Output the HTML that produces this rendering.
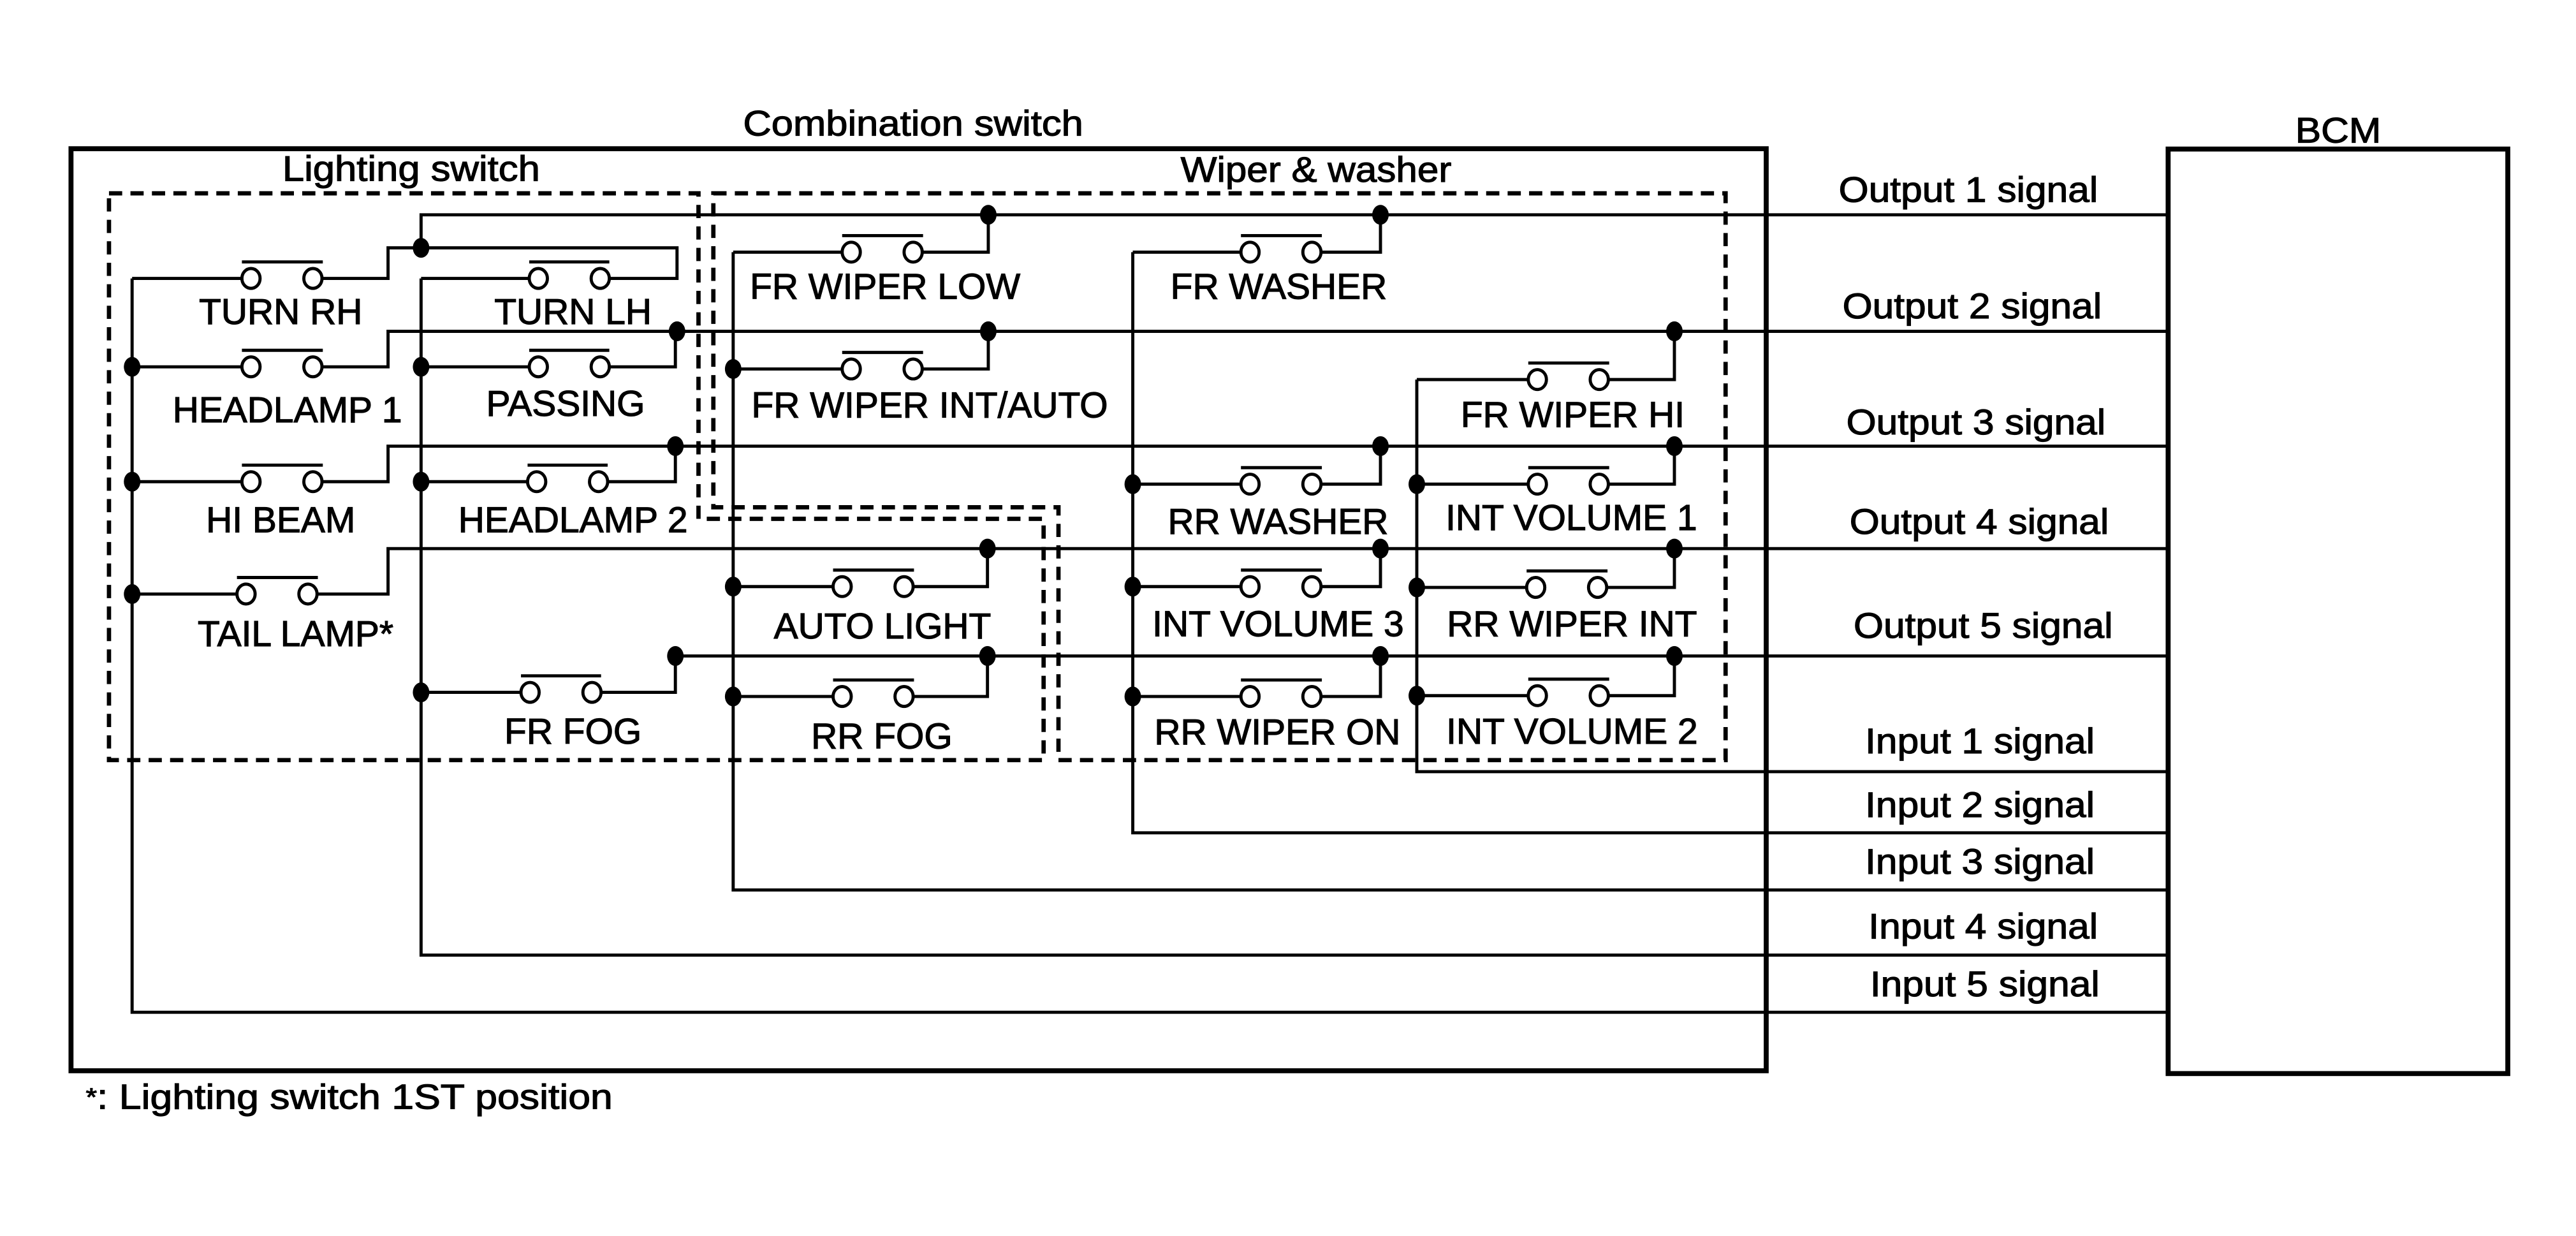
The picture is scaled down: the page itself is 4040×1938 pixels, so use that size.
<!DOCTYPE html>
<html><head><meta charset="utf-8"><style>html,body{margin:0;padding:0;background:#fff}svg{display:block}</style></head>
<body>
<svg width="4040" height="1938" viewBox="0 0 1560 748" preserveAspectRatio="none" xmlns="http://www.w3.org/2000/svg" font-family="'Liberation Sans', sans-serif" font-size="22">
<rect width="1560" height="748" fill="#fff"/>
<g fill="none" stroke="#000">
<rect x="43" y="90" width="1026.6" height="558" stroke-width="3"/>
<rect x="1313" y="90.2" width="205.7" height="559.5" stroke-width="3"/>
<path d="M66,117 H423 V314 H632 V460 H66 Z" stroke-width="2.6" stroke-dasharray="8 5"/>
<path d="M432,117 H1045 V460 H641 V307 H432 Z" stroke-width="2.6" stroke-dasharray="8 5"/>
<g stroke-width="1.9">
<path d="M255,150 V130 H1313"/>
<path d="M80,168.5 V612.6 H1313"/>
<path d="M255,168.5 V578 H1313"/>
<path d="M444,152.6 V538.6 H1313"/>
<path d="M686,152.6 V504 H1313"/>
<path d="M858,229.7 V467 H1313"/>
<path d="M80,168.5 H146.5 M195.5,168.5 H235 V150 H410 V168.5 H369"/>
<path d="M255,168.5 H320.5"/>
<path d="M80,222 H146.5 M195.5,222 H235 V200.5 H1313"/>
<path d="M255,222 H320.5 M369,222 H409 V200.5"/>
<path d="M80,291.5 H146.5 M195.5,291.5 H235 V270 H1313"/>
<path d="M255,291.5 H319.5 M368,291.5 H409 V270"/>
<path d="M80,359.5 H143.5 M192.5,359.5 H235 V332 H1313"/>
<path d="M255,419 H315.5 M364,419 H409 V397 H1313"/>
<path d="M444,152.6 H510 M559,152.6 H598.5 V130"/>
<path d="M686,152.6 H751.5 M800.5,152.6 H836 V130"/>
<path d="M444,223.3 H510 M559,223.3 H598.5 V200.5"/>
<path d="M858,229.7 H925.5 M974.5,229.7 H1014 V200.5"/>
<path d="M686,293 H751.5 M800.5,293 H836 V270"/>
<path d="M858,293 H925.5 M974.5,293 H1014 V270"/>
<path d="M444,355 H504.5 M553.5,355 H598 V332"/>
<path d="M686,355 H751.5 M800.5,355 H836 V332"/>
<path d="M858,355.5 H924.5 M973.5,355.5 H1014 V332"/>
<path d="M444,421.5 H504.5 M553.5,421.5 H598 V397"/>
<path d="M686,421.5 H751.5 M800.5,421.5 H836 V397"/>
<path d="M858,421 H925.5 M974.5,421 H1014 V397"/>
<path d="M146.5,158.5 H195.5 M320.5,158.5 H369 M146.5,212 H195.5 M320.5,212 H369 M146.5,281.5 H195.5 M319.5,281.5 H368 M143.5,349.5 H192.5 M315.5,409 H364"/>
<path d="M510,142.6 H559 M751.5,142.6 H800.5 M510,213.3 H559 M925.5,219.7 H974.5 M751.5,283 H800.5 M925.5,283 H974.5 M504.5,345 H553.5 M751.5,345 H800.5 M924.5,345.5 H973.5 M504.5,411.5 H553.5 M751.5,411.5 H800.5 M925.5,411 H974.5"/>
</g>
<g stroke-width="1.9" fill="#fff">
<ellipse cx="152" cy="168.5" rx="5.5" ry="6"/><ellipse cx="189.5" cy="168.5" rx="5.5" ry="6"/>
<ellipse cx="326" cy="168.5" rx="5.5" ry="6"/><ellipse cx="363.5" cy="168.5" rx="5.5" ry="6"/>
<ellipse cx="152" cy="222" rx="5.5" ry="6"/><ellipse cx="189.5" cy="222" rx="5.5" ry="6"/>
<ellipse cx="326" cy="222" rx="5.5" ry="6"/><ellipse cx="363.5" cy="222" rx="5.5" ry="6"/>
<ellipse cx="152" cy="291.5" rx="5.5" ry="6"/><ellipse cx="189.5" cy="291.5" rx="5.5" ry="6"/>
<ellipse cx="325" cy="291.5" rx="5.5" ry="6"/><ellipse cx="362.5" cy="291.5" rx="5.5" ry="6"/>
<ellipse cx="149" cy="359.5" rx="5.5" ry="6"/><ellipse cx="186.5" cy="359.5" rx="5.5" ry="6"/>
<ellipse cx="321" cy="419" rx="5.5" ry="6"/><ellipse cx="358.5" cy="419" rx="5.5" ry="6"/>
<ellipse cx="515.5" cy="152.6" rx="5.5" ry="6"/><ellipse cx="553" cy="152.6" rx="5.5" ry="6"/>
<ellipse cx="757" cy="152.6" rx="5.5" ry="6"/><ellipse cx="794.5" cy="152.6" rx="5.5" ry="6"/>
<ellipse cx="515.5" cy="223.3" rx="5.5" ry="6"/><ellipse cx="553" cy="223.3" rx="5.5" ry="6"/>
<ellipse cx="931" cy="229.7" rx="5.5" ry="6"/><ellipse cx="968.5" cy="229.7" rx="5.5" ry="6"/>
<ellipse cx="757" cy="293" rx="5.5" ry="6"/><ellipse cx="794.5" cy="293" rx="5.5" ry="6"/>
<ellipse cx="931" cy="293" rx="5.5" ry="6"/><ellipse cx="968.5" cy="293" rx="5.5" ry="6"/>
<ellipse cx="510" cy="355" rx="5.5" ry="6"/><ellipse cx="547.5" cy="355" rx="5.5" ry="6"/>
<ellipse cx="757" cy="355" rx="5.5" ry="6"/><ellipse cx="794.5" cy="355" rx="5.5" ry="6"/>
<ellipse cx="930" cy="355.5" rx="5.5" ry="6"/><ellipse cx="967.5" cy="355.5" rx="5.5" ry="6"/>
<ellipse cx="510" cy="421.5" rx="5.5" ry="6"/><ellipse cx="547.5" cy="421.5" rx="5.5" ry="6"/>
<ellipse cx="757" cy="421.5" rx="5.5" ry="6"/><ellipse cx="794.5" cy="421.5" rx="5.5" ry="6"/>
<ellipse cx="931" cy="421" rx="5.5" ry="6"/><ellipse cx="968.5" cy="421" rx="5.5" ry="6"/>
</g>
</g>
<g fill="#000">
<ellipse cx="255" cy="150" rx="5" ry="6"/><ellipse cx="80" cy="222" rx="5" ry="6"/><ellipse cx="255" cy="222" rx="5" ry="6"/>
<ellipse cx="410" cy="200.5" rx="5" ry="6"/><ellipse cx="80" cy="291.5" rx="5" ry="6"/><ellipse cx="255" cy="291.5" rx="5" ry="6"/>
<ellipse cx="409" cy="270" rx="5" ry="6"/><ellipse cx="80" cy="359.5" rx="5" ry="6"/><ellipse cx="255" cy="419" rx="5" ry="6"/>
<ellipse cx="409" cy="397" rx="5" ry="6"/><ellipse cx="598.5" cy="130" rx="5" ry="6"/><ellipse cx="836" cy="130" rx="5" ry="6"/>
<ellipse cx="598.5" cy="200.5" rx="5" ry="6"/><ellipse cx="1014" cy="200.5" rx="5" ry="6"/><ellipse cx="444" cy="223.3" rx="5" ry="6"/>
<ellipse cx="836" cy="270" rx="5" ry="6"/><ellipse cx="1014" cy="270" rx="5" ry="6"/><ellipse cx="686" cy="293" rx="5" ry="6"/>
<ellipse cx="858" cy="293" rx="5" ry="6"/><ellipse cx="598" cy="332" rx="5" ry="6"/><ellipse cx="836" cy="332" rx="5" ry="6"/>
<ellipse cx="1014" cy="332" rx="5" ry="6"/><ellipse cx="444" cy="355" rx="5" ry="6"/><ellipse cx="686" cy="355" rx="5" ry="6"/>
<ellipse cx="858" cy="355.5" rx="5" ry="6"/><ellipse cx="598" cy="397" rx="5" ry="6"/><ellipse cx="836" cy="397" rx="5" ry="6"/>
<ellipse cx="1014" cy="397" rx="5" ry="6"/><ellipse cx="444" cy="421.5" rx="5" ry="6"/><ellipse cx="686" cy="421.5" rx="5" ry="6"/>
<ellipse cx="858" cy="421" rx="5" ry="6"/>
</g>
<g fill="#000" stroke="#000" stroke-width="0.45" text-anchor="middle">
<text x="553" y="82" font-size="21.5" textLength="206" lengthAdjust="spacingAndGlyphs">Combination switch</text>
<text x="1416" y="86.3" font-size="21.5" textLength="52" lengthAdjust="spacingAndGlyphs">BCM</text>
<text x="249" y="109.4" font-size="21.5" textLength="156" lengthAdjust="spacingAndGlyphs">Lighting switch</text>
<text x="797" y="110" font-size="21.5" textLength="164" lengthAdjust="spacingAndGlyphs">Wiper &amp; washer</text>
<text x="170" y="196">TURN RH</text>
<text x="347" y="196">TURN LH</text>
<text x="174" y="255.5">HEADLAMP 1</text>
<text x="342.5" y="251.6">PASSING</text>
<text x="170" y="322">HI BEAM</text>
<text x="347" y="322">HEADLAMP 2</text>
<text x="179" y="391">TAIL LAMP*</text>
<text x="347" y="450">FR FOG</text>
<text x="536" y="180.8">FR WIPER LOW</text>
<text x="774.4" y="180.8">FR WASHER</text>
<text x="563" y="252.7">FR WIPER INT/AUTO</text>
<text x="952.4" y="258.4">FR WIPER HI</text>
<text x="774" y="323">RR WASHER</text>
<text x="951.6" y="320.7">INT VOLUME 1</text>
<text x="534.4" y="386.4">AUTO LIGHT</text>
<text x="774" y="385">INT VOLUME 3</text>
<text x="952" y="385">RR WIPER INT</text>
<text x="534" y="453">RR FOG</text>
<text x="773.6" y="450.4">RR WIPER ON</text>
<text x="952" y="450">INT VOLUME 2</text>
<g font-size="21.5">
<text x="1192" y="122.1" textLength="157" lengthAdjust="spacingAndGlyphs">Output 1 signal</text>
<text x="1194.3" y="192.6" textLength="157" lengthAdjust="spacingAndGlyphs">Output 2 signal</text>
<text x="1196.6" y="262.8" textLength="157" lengthAdjust="spacingAndGlyphs">Output 3 signal</text>
<text x="1198.6" y="323" textLength="157" lengthAdjust="spacingAndGlyphs">Output 4 signal</text>
<text x="1201" y="386" textLength="157" lengthAdjust="spacingAndGlyphs">Output 5 signal</text>
<text x="1199" y="455.8" textLength="139" lengthAdjust="spacingAndGlyphs">Input 1 signal</text>
<text x="1199" y="494.5" textLength="139" lengthAdjust="spacingAndGlyphs">Input 2 signal</text>
<text x="1199" y="528.7" textLength="139" lengthAdjust="spacingAndGlyphs">Input 3 signal</text>
<text x="1201" y="568" textLength="139" lengthAdjust="spacingAndGlyphs">Input 4 signal</text>
<text x="1202" y="602.8" textLength="139" lengthAdjust="spacingAndGlyphs">Input 5 signal</text>
</g>
</g>
<text x="52" y="671" font-size="21" fill="#000" stroke="#000" stroke-width="0.45" textLength="319" lengthAdjust="spacingAndGlyphs"><tspan font-size="15" dy="-2">*</tspan><tspan dy="2">: Lighting switch 1ST position</tspan></text>
</svg>
</body></html>
